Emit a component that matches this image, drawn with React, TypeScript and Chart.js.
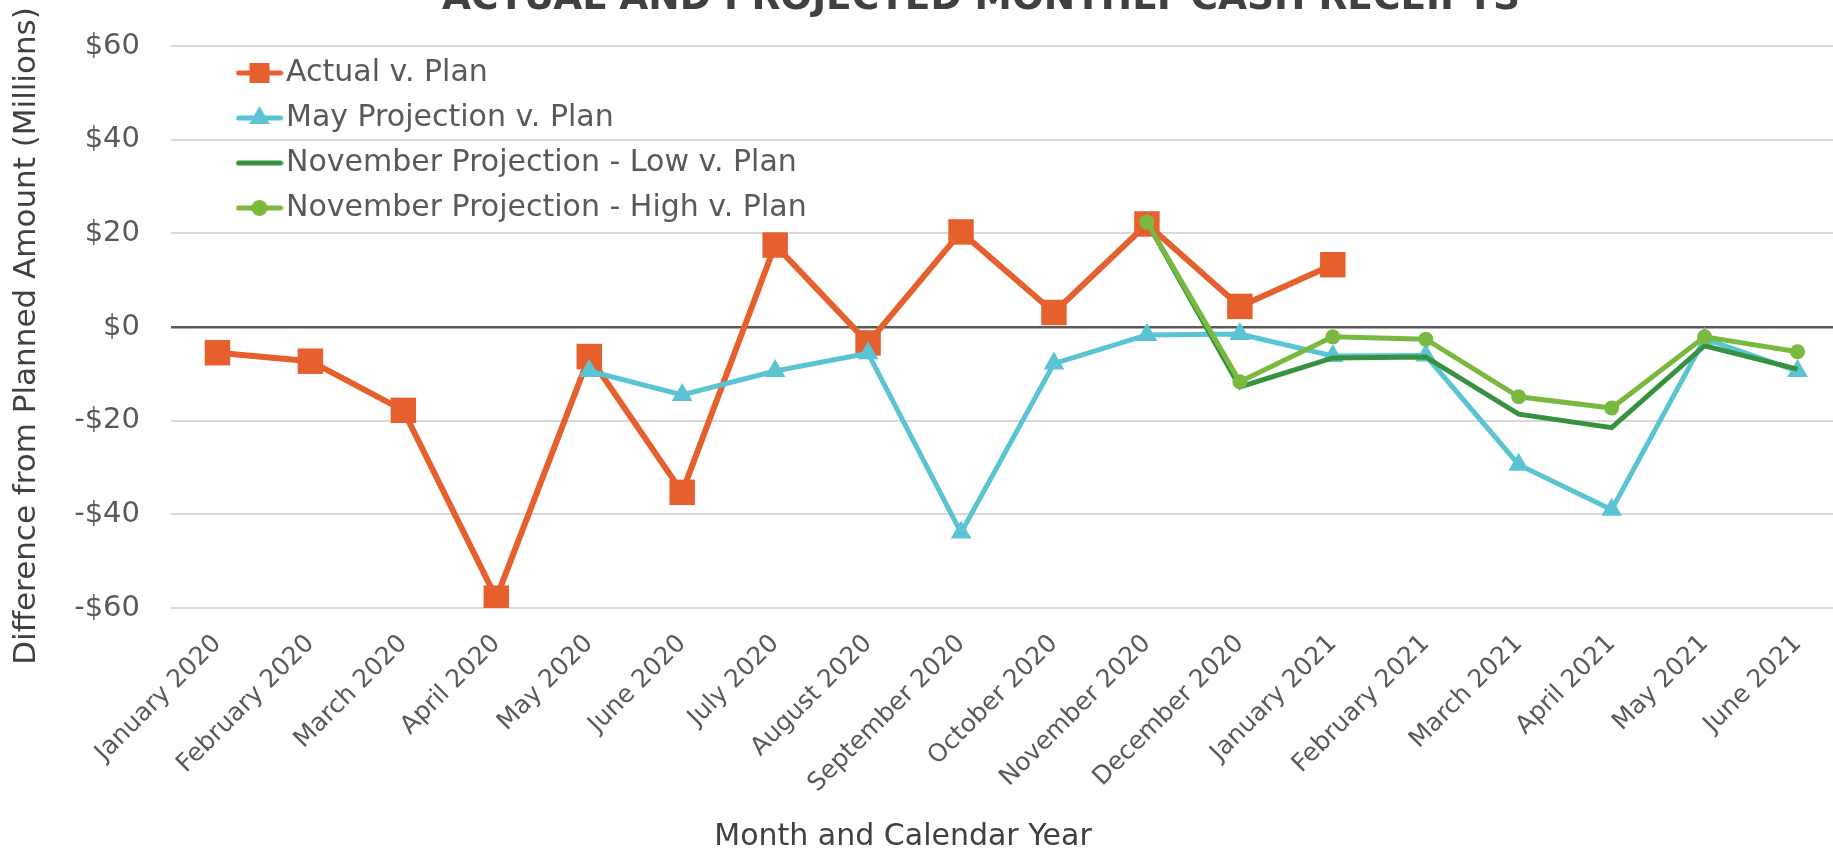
import React, { useEffect, useRef } from 'react';
import { Chart, registerables } from 'chart.js';

Chart.register(...registerables);

const CHART_TITLE = 'ACTUAL AND PROJECTED MONTHLY CASH RECEIPTS';
const X_TITLE = 'Month and Calendar Year';
const Y_TITLE = 'Difference from Planned Amount (Millions)';

const MONTHS = [
  'January 2020', 'February 2020', 'March 2020', 'April 2020', 'May 2020', 'June 2020',
  'July 2020', 'August 2020', 'September 2020', 'October 2020', 'November 2020', 'December 2020',
  'January 2021', 'February 2021', 'March 2021', 'April 2021', 'May 2021', 'June 2021',
];

const ACTUAL = [-5.5, -7.3, -17.8, -57.9, -6.3, -35.3, 17.5, -3.4, 20.3, 3.1, 22.0, 4.4, 13.3, null, null, null, null, null];
const MAY_PROJ = [null, null, null, null, -9.4, -14.5, -9.4, -5.6, -43.9, -7.8, -1.7, -1.5, -6.2, -6.1, -29.4, -39.0, -2.5, -9.4];
const NOV_LOW = [null, null, null, null, null, null, null, null, null, null, 22.4, -12.8, -6.6, -6.4, -18.6, -21.5, -4.0, -9.0];
const NOV_HIGH = [null, null, null, null, null, null, null, null, null, null, 22.4, -11.7, -2.1, -2.6, -14.9, -17.3, -2.1, -5.3];

const SERIES_LABELS = ['Actual v. Plan', 'May Projection v. Plan', 'November Projection - Low v. Plan', 'November Projection - High v. Plan'];
const Y_TICKS = [-60, -40, -20, 0, 20, 40, 60];

const ORANGE = '#E6602E';
const CYAN = '#5BC4D3';
const DARK_GREEN = '#37923F';
const LIGHT_GREEN = '#79B940';
const TEXT = '#595959';

function makeIcon(color: string, shape: string): HTMLCanvasElement {
  const c = document.createElement('canvas');
  c.width = 48;
  c.height = 30;
  const g = c.getContext('2d')!;
  g.strokeStyle = color;
  g.lineWidth = 5;
  g.lineCap = 'round';
  g.beginPath();
  g.moveTo(3, 15);
  g.lineTo(45, 15);
  g.stroke();
  g.fillStyle = color;
  if (shape === 'rect') {
    g.fillRect(24 - 10, 15 - 10, 20, 20);
  } else if (shape === 'triangle') {
    g.beginPath();
    g.moveTo(24, 15 - 12);
    g.lineTo(24 + 10.4, 15 + 6);
    g.lineTo(24 - 10.4, 15 + 6);
    g.closePath();
    g.fill();
  } else if (shape === 'circle') {
    g.beginPath();
    g.arc(24, 15, 8, 0, Math.PI * 2);
    g.fill();
  }
  return c;
}

const fmtMoney = (v: number) => (v < 0 ? '-$' + Math.abs(v) : '$' + v);

const CANVAS_W = 1862;
const CANVAS_H = 850;

export default function App() {
  const ref = useRef<HTMLCanvasElement>(null);

  useEffect(() => {
    document.body.style.margin = '0';
    const canvas = ref.current;
    if (!canvas) return;

    const icons = [
      makeIcon(ORANGE, 'rect'),
      makeIcon(CYAN, 'triangle'),
      makeIcon(DARK_GREEN, 'none'),
      makeIcon(LIGHT_GREEN, 'circle'),
    ];

    const titlesPlugin = {
      id: 'customTitles',
      afterLayout(chart: any) {
        const lg = chart.legend;
        if (lg) {
          lg.left = 233;
          lg.top = 43;
          lg.bottom = chart.chartArea.bottom;
          lg.right = chart.chartArea.right;
        }
      },
      afterDraw(chart: any) {
        const ctx = chart.ctx;
        ctx.save();
        ctx.fillStyle = '#404040';
        ctx.textAlign = 'center';
        ctx.textBaseline = 'alphabetic';
        ctx.font = 'bold 37.5px "DejaVu Sans"';
        ctx.fillText(CHART_TITLE, 981, 9);
        ctx.font = '30px "DejaVu Sans"';
        ctx.fillText(X_TITLE, 903, 845);
        ctx.font = '31px "DejaVu Sans"';
        ctx.translate(35, 336);
        ctx.rotate(-Math.PI / 2);
        ctx.fillText(Y_TITLE, 0, 0);
        ctx.restore();
      },
    };

    const chart = new Chart(canvas, {
      type: 'line',
      data: {
        labels: MONTHS,
        datasets: [
          {
            label: SERIES_LABELS[0],
            data: ACTUAL,
            borderColor: ORANGE,
            backgroundColor: ORANGE,
            borderWidth: 6,
            pointStyle: 'rect',
            pointRadius: 18,
            pointHoverRadius: 18,
            pointBorderWidth: 0,
            order: 4,
          },
          {
            label: SERIES_LABELS[1],
            data: MAY_PROJ,
            borderColor: CYAN,
            backgroundColor: CYAN,
            borderWidth: 5,
            pointStyle: 'triangle',
            pointRadius: 12,
            pointHoverRadius: 12,
            pointBorderWidth: 0,
            order: 3,
          },
          {
            label: SERIES_LABELS[2],
            data: NOV_LOW,
            borderColor: DARK_GREEN,
            backgroundColor: DARK_GREEN,
            borderWidth: 5,
            pointRadius: 0,
            pointHoverRadius: 0,
            order: 2,
          },
          {
            label: SERIES_LABELS[3],
            data: NOV_HIGH,
            borderColor: LIGHT_GREEN,
            backgroundColor: LIGHT_GREEN,
            borderWidth: 5,
            pointStyle: 'circle',
            pointRadius: 7.5,
            pointHoverRadius: 7.5,
            pointBorderWidth: 0,
            order: 1,
          },
        ],
      } as any,
      options: {
        responsive: false,
        animation: false,
        events: [],
        font: { family: '"DejaVu Sans"' },
        layout: { padding: { top: 46, left: 0, right: 0, bottom: 0 } },
        plugins: {
          title: { display: false },
          tooltip: { enabled: false },
          legend: {
            display: true,
            position: 'chartArea',
            align: 'start',
            labels: {
              usePointStyle: true,
              pointStyleWidth: 23,
              padding: 15,
              color: TEXT,
              font: { family: '"DejaVu Sans"', size: 30 },
              generateLabels: (ch: any) =>
                ch.data.datasets.map((ds: any, i: number) => ({
                  text: ds.label,
                  pointStyle: icons[i],
                  fillStyle: ds.borderColor,
                  strokeStyle: ds.borderColor,
                  lineWidth: 0,
                  hidden: false,
                  datasetIndex: i,
                  fontColor: TEXT,
                })),
            },
          },
        },
        scales: {
          x: {
            type: 'category',
            offset: true,
            grid: { display: false, drawTicks: false },
            border: { display: false },
            ticks: {
              autoSkip: false,
              maxRotation: 45,
              minRotation: 45,
              padding: 21,
              color: TEXT,
              font: { family: '"DejaVu Sans"', size: 25 },
            },
            afterFit: (scale: any) => {
              scale.height = 242;
              scale.paddingLeft = 0;
              scale.paddingRight = 0;
              scale.paddingTop = 0;
              scale.paddingBottom = 0;
            },
          },
          y: {
            min: -60,
            max: 60,
            afterBuildTicks: (scale: any) => {
              scale.ticks = Y_TICKS.map((v) => ({ value: v }));
            },
            grid: {
              drawTicks: false,
              lineWidth: (c: any) => (c.tick && c.tick.value === 0 ? 2.5 : 2),
              color: (c: any) => (c.tick && c.tick.value === 0 ? '#595959' : '#D9D9D9'),
            },
            border: { display: false },
            ticks: {
              padding: 31,
              color: TEXT,
              font: { family: '"DejaVu Sans"', size: 29 },
              callback: (v: any) => fmtMoney(Number(v)),
            },
            afterFit: (scale: any) => {
              scale.width = 171;
              scale.paddingLeft = 0;
              scale.paddingRight = 0;
              scale.paddingTop = 0;
              scale.paddingBottom = 0;
            },
          },
        },
      } as any,
      plugins: [titlesPlugin],
    });

    return () => chart.destroy();
  }, []);

  return (
    <div
      style={{
        position: 'fixed',
        left: 0,
        top: 0,
        width: 1833,
        height: 850,
        overflow: 'hidden',
        background: '#ffffff',
      }}
    >
      <canvas
        ref={ref}
        width={CANVAS_W}
        height={CANVAS_H}
        style={{ display: 'block', width: CANVAS_W, height: CANVAS_H, maxWidth: 'none' }}
      />
    </div>
  );
}
